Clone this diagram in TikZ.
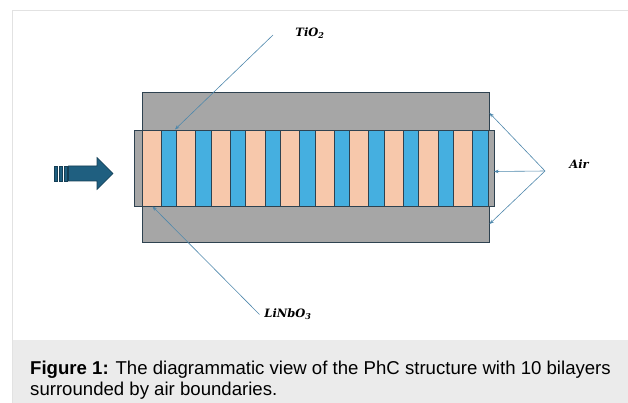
\documentclass[tikz,border=0pt]{standalone}
\usepackage{fontspec}
\setmainfont{DejaVu Serif}
\newfontfamily\capfont{Liberation Sans}
\usetikzlibrary{arrows.meta}
\definecolor{slab}{HTML}{A6A6A6}
\definecolor{edge}{HTML}{2E4250}
\definecolor{peach}{HTML}{F7C8AB}
\definecolor{layerblue}{HTML}{45AFE0}
\definecolor{beam}{HTML}{1F5F80}
\definecolor{beamedge}{HTML}{163F55}
\definecolor{leader}{HTML}{4F88AC}
\definecolor{framegrey}{HTML}{E2E2E2}
\definecolor{capbg}{HTML}{EBEBEB}
\tikzset{
  layerbox/.style={draw=edge, line width=0.9pt},
  leaderline/.style={draw=leader, line width=0.6pt, -{Stealth[length=4.5pt,width=3.5pt]}},
  matlabel/.style={font=\fontsize{11.5}{13}\selectfont\bfseries\itshape, inner sep=0pt}
}
\begin{document}
\begin{tikzpicture}[x=1pt,y=-1pt]
\useasboundingbox (0,0) rectangle (628,403);
% page frame and caption panel
\fill[capbg] (12,340) rectangle (628,403);
\draw[framegrey, line width=1pt] (12.5,403) -- (12.5,10.5) -- (628,10.5);
\node[anchor=base west, inner sep=0pt, align=left,
      font=\capfont\fontsize{18.6}{21}\selectfont] (cap) at (30,395)
  {\textbf{Figure 1:} The diagrammatic view of the PhC structure with 10 bilayers\\surrounded by air boundaries.};

% surrounding air block
\draw[layerbox, fill=slab] (142,92) rectangle (489,242);
% photonic crystal strip
\draw[layerbox, fill=slab] (134.5,130) rectangle (494.5,206);
\foreach \k in {0,...,9}{
  \pgfmathsetmacro{\xa}{142+34.6*\k}
  \pgfmathsetmacro{\xb}{\xa+19.3}
  \pgfmathsetmacro{\xc}{\xa+34.6}
  \draw[layerbox, fill=peach] (\xa,130) rectangle (\xb,206);
  \draw[layerbox, fill=layerblue] (\xb,130) rectangle (\xc,206);
}

% incident wave arrow
\foreach \bx in {54,59.5,64.5}
  \draw[beamedge, fill=beam, line width=0.6pt] (\bx,166) rectangle ++(3,15);
\draw[beamedge, fill=beam, line width=0.6pt]
  (68.5,166) -- (97,166) -- (97,157.5) -- (113,173.5) -- (97,189.5) -- (97,181) -- (68.5,181) -- cycle;

% labels and leader lines
\node[matlabel] (tio) at (310,33) {TiO\textsubscript{2}};
\coordinate (tioA) at (273,35);
\coordinate (tioB) at (175,129.5);
\draw[leaderline] (tioA) -- (tioB);

\node[matlabel] (lno) at (288,314) {LiNbO\textsubscript{3}};
\coordinate (lnoA) at (259.5,314.5);
\coordinate (lnoB) at (152.5,206.5);
\draw[leaderline] (lnoA) -- (lnoB);

\node[matlabel] (air) at (579,164) {Air};
\coordinate (airA) at (545,171);
\coordinate (airT) at (489.5,113);
\coordinate (airM) at (494,171.5);
\coordinate (airB) at (489.5,224);
\draw[leaderline] (airA) -- (airT);
\draw[leaderline] (airA) -- (airM);
\draw[leaderline] (airA) -- (airB);
\end{tikzpicture}
\end{document}
